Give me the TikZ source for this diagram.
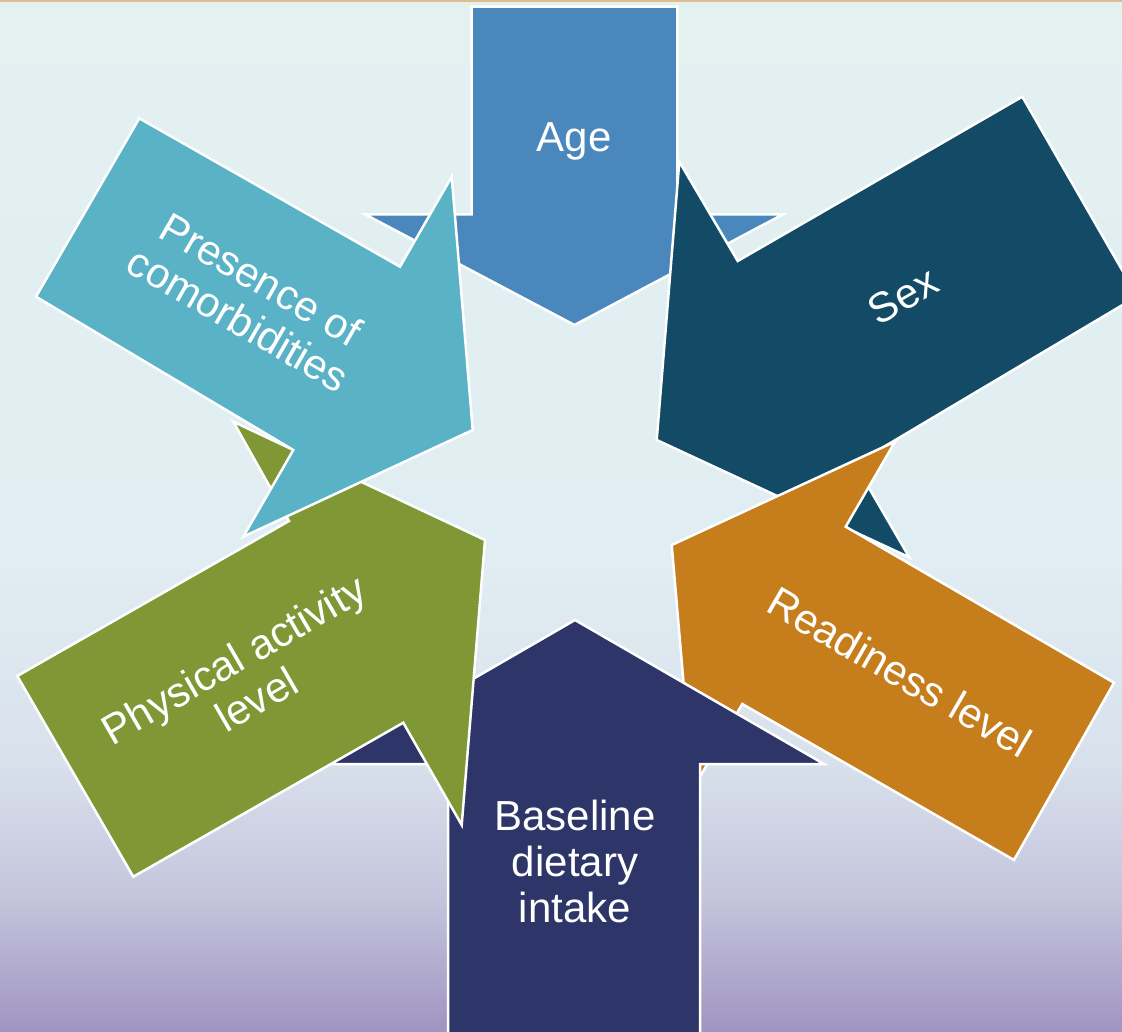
\documentclass[tikz,border=0pt]{standalone}
\usepackage{fontspec}
\setmainfont{Liberation Sans}
\definecolor{agec}{RGB}{74,135,189}
\definecolor{sexc}{RGB}{19,74,102}
\definecolor{readc}{RGB}{198,126,29}
\definecolor{basec}{RGB}{46,53,104}
\definecolor{physc}{RGB}{127,151,52}
\definecolor{presc}{RGB}{89,178,197}
\definecolor{bga}{RGB}{227,241,241}
\definecolor{bgb}{RGB}{224,237,242}
\definecolor{bgc}{RGB}{217,225,236}
\definecolor{bgd}{RGB}{196,196,220}
\definecolor{bge}{RGB}{160,148,194}
\definecolor{topline}{RGB}{222,190,140}
\begin{document}
\begin{tikzpicture}[x=1pt,y=-1pt,
  arrowshape/.style={draw=white, line width=2.5pt, line join=miter},
  lbl/.style={text=white, font=\fontsize{42}{46}\selectfont, align=center, inner sep=0pt}]
\useasboundingbox (0,0) rectangle (1122,1032);
\clip (0,0) rectangle (1122,1032);
% background
\fill[top color=bga, bottom color=bgb] (0,0) rectangle (1122,561);
\fill[top color=bgb, bottom color=bgc] (0,560) rectangle (1122,761);
\fill[top color=bgc, bottom color=bgd] (0,760) rectangle (1122,901);
\fill[top color=bgd, bottom color=bge] (0,900) rectangle (1122,1032);
\draw[topline, line width=1.6pt] (0,0.8) -- (1122,0.8);
% arrows (bottom to top)
\filldraw[arrowshape, fill=agec] (471.7,6.7) -- (677.3,6.7) -- (677.3,214.3) -- (783,214.3) -- (574.5,325) -- (365,214.3) -- (471.7,214.3) -- cycle;
\filldraw[arrowshape, fill=sexc] (656.7,440) -- (679.3,161.7) -- (737.7,261) -- (1022.3,96.7) -- (1137.2,296.3) -- (855,464) -- (909.3,557.3) -- cycle;
\filldraw[arrowshape, fill=readc] (671.7,545) -- (895,441.7) -- (845.7,526.7) -- (1114,682.7) -- (1014,860) -- (742.3,704) -- (692.7,789.3) -- cycle;
\filldraw[arrowshape, fill=basec] (575,620) -- (824,764) -- (700,764) -- (700,1045) -- (448,1045) -- (448,764) -- (326,764) -- cycle;
\filldraw[arrowshape, fill=physc] (17.3,676) -- (289,521) -- (233.3,421.7) -- (485,540) -- (461.7,825) -- (403.3,722.7) -- (133.3,876.7) -- cycle;
\filldraw[arrowshape, fill=presc] (139.3,118.3) -- (400,266.7) -- (451.7,176.7) -- (472.7,430) -- (243.3,536.7) -- (293.3,450) -- (36,296.7) -- cycle;
% labels
\node[lbl, anchor=base] (age) at (574,151.5) {Age};
\node[lbl, rotate=30] (sex) at (903,296) {Sex};
\node[lbl, rotate=-30] (ready) at (900,672) {Readiness level};
\node[lbl] (base) at (575,861) {Baseline\\dietary\\intake};
\node[lbl, rotate=30] (phys) at (245,679) {Physical activity\\level};
\node[lbl, rotate=-30] (pres) at (250,299) {Presence of\\comorbidities};
\end{tikzpicture}
\end{document}
